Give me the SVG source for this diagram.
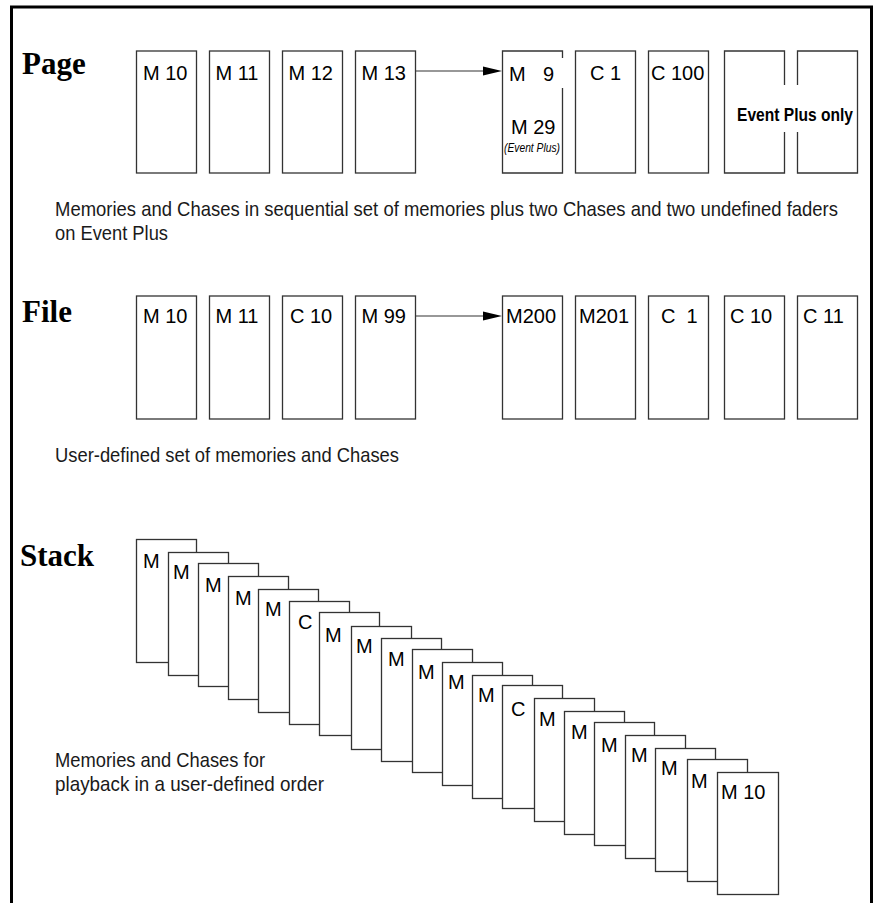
<svg xmlns="http://www.w3.org/2000/svg" width="879" height="903" viewBox="0 0 879 903">
<style>
.bg{fill:#fff}
.frame{fill:none;stroke:#000;stroke-width:3}
.box{fill:#fff;stroke:#333;stroke-width:1.3}
.edge{fill:none;stroke:#333;stroke-width:1.3}
.lbl{font-family:"Liberation Sans",Arial,sans-serif;font-size:20px;fill:#000}
.title{font-family:"Liberation Serif","Times New Roman",serif;font-weight:bold;font-size:31px;fill:#000}
.desc{font-family:"Liberation Sans",Arial,sans-serif;font-size:21px;fill:#1a1a1a}
.small{font-family:"Liberation Sans",Arial,sans-serif;font-style:italic;font-size:13px;fill:#000}
.bold{font-family:"Liberation Sans",Arial,sans-serif;font-weight:bold;font-size:18px;fill:#000}
.conn{stroke:#333;stroke-width:1.2;fill:none}
.head{fill:#000}
</style>
<rect class="bg" x="0" y="0" width="879" height="903"/>
<rect class="frame" x="11.5" y="7" width="860" height="910"/>

<!-- Section titles -->
<g id="title-page"><text class="title" x="22" y="74">Page</text></g>
<g id="title-file"><text class="title" x="22" y="322">File</text></g>
<g id="title-stack"><text class="title" x="20" y="566">Stack</text></g>

<!-- Page row -->
<g id="page-m10"><rect class="box" x="136.5" y="51" width="60" height="122"/><text class="lbl" x="143" y="80">M 10</text></g>
<g id="page-m11"><rect class="box" x="209.5" y="51" width="60" height="122"/><text class="lbl" x="215.5" y="80">M 11</text></g>
<g id="page-m12"><rect class="box" x="282.5" y="51" width="60" height="122"/><text class="lbl" x="288.5" y="80">M 12</text></g>
<g id="page-m13"><rect class="box" x="355.5" y="51" width="60" height="122"/><text class="lbl" x="361.5" y="80">M 13</text></g>
<g id="page-m9"><path class="edge" d="M562.5,58 V51 H502.5 V173 H562.5 V88"/><text class="lbl" x="509" y="81">M</text><text class="lbl" x="543" y="81">9</text><text class="lbl" x="511" y="134">M 29</text><text class="small" x="504" y="152" textLength="56" lengthAdjust="spacingAndGlyphs">(Event Plus)</text></g>
<g id="page-c1"><rect class="box" x="575.5" y="51" width="60" height="122"/><text class="lbl" x="590" y="80">C 1</text></g>
<g id="page-c100"><rect class="box" x="648.5" y="51" width="60" height="122"/><text class="lbl" x="651" y="80">C 100</text></g>
<g id="page-ep1"><path class="edge" d="M784.5,85 V51 H724.5 V173 H784.5 V132"/></g>
<g id="page-ep2"><path class="edge" d="M797.5,85 V51 H857.5 V173 H797.5 V132"/><text class="bold" x="737" y="121" textLength="116" lengthAdjust="spacingAndGlyphs">Event Plus only</text></g>

<g id="desc-page">
<text class="desc" x="55" y="216" textLength="783" lengthAdjust="spacingAndGlyphs">Memories and Chases in sequential set of memories plus two Chases and two undefined faders</text>
<text class="desc" x="55" y="240" textLength="113" lengthAdjust="spacingAndGlyphs">on Event Plus</text>
</g>

<!-- File row -->
<g id="file-m10"><rect class="box" x="136.5" y="296" width="60" height="123"/><text class="lbl" x="143" y="323">M 10</text></g>
<g id="file-m11"><rect class="box" x="209.5" y="296" width="60" height="123"/><text class="lbl" x="215.5" y="323">M 11</text></g>
<g id="file-c10"><rect class="box" x="282.5" y="296" width="60" height="123"/><text class="lbl" x="290" y="323">C 10</text></g>
<g id="file-m99"><rect class="box" x="355.5" y="296" width="60" height="123"/><text class="lbl" x="361.5" y="323">M 99</text></g>
<g id="file-m200"><rect class="box" x="502.5" y="296" width="60" height="123"/><text class="lbl" x="506" y="323">M200</text></g>
<g id="file-m201"><rect class="box" x="575.5" y="296" width="60" height="123"/><text class="lbl" x="579" y="323">M201</text></g>
<g id="file-c1"><rect class="box" x="648.5" y="296" width="60" height="123"/><text class="lbl" x="661" y="323" xml:space="preserve">C  1</text></g>
<g id="file-c10b"><rect class="box" x="724.5" y="296" width="60" height="123"/><text class="lbl" x="730" y="323">C 10</text></g>
<g id="file-c11"><rect class="box" x="797.5" y="296" width="60" height="123"/><text class="lbl" x="803" y="323">C 11</text></g>

<g id="desc-file">
<text class="desc" x="55" y="462" textLength="344" lengthAdjust="spacingAndGlyphs">User-defined set of memories and Chases</text>
</g>

<!-- Stack -->
<g id="stack-1"><rect class="box" x="136.5" y="539.5" width="60" height="123"/><text class="lbl" x="143" y="568">M</text></g>
<g id="stack-2"><rect class="box" x="168.5" y="552.5" width="60" height="123"/><text class="lbl" x="173" y="579">M</text></g>
<g id="stack-3"><rect class="box" x="198.5" y="563.5" width="60" height="123"/><text class="lbl" x="205" y="592">M</text></g>
<g id="stack-4"><rect class="box" x="228.5" y="576.5" width="60" height="123"/><text class="lbl" x="235" y="605">M</text></g>
<g id="stack-5"><rect class="box" x="258.5" y="589.5" width="60" height="123"/><text class="lbl" x="265" y="616">M</text></g>
<g id="stack-6"><rect class="box" x="289.5" y="601.5" width="60" height="123"/><text class="lbl" x="298" y="629">C</text></g>
<g id="stack-7"><rect class="box" x="319.5" y="612.5" width="60" height="123"/><text class="lbl" x="325" y="642">M</text></g>
<g id="stack-8"><rect class="box" x="351.5" y="626.5" width="60" height="123"/><text class="lbl" x="356" y="653">M</text></g>
<g id="stack-9"><rect class="box" x="381.5" y="638.5" width="60" height="123"/><text class="lbl" x="388" y="666">M</text></g>
<g id="stack-10"><rect class="box" x="412.5" y="649.5" width="60" height="123"/><text class="lbl" x="418" y="679">M</text></g>
<g id="stack-11"><rect class="box" x="442.5" y="662.5" width="60" height="123"/><text class="lbl" x="448" y="689">M</text></g>
<g id="stack-12"><rect class="box" x="472.5" y="675.5" width="60" height="123"/><text class="lbl" x="478" y="702">M</text></g>
<g id="stack-13"><rect class="box" x="502.5" y="685.5" width="60" height="123"/><text class="lbl" x="511" y="716">C</text></g>
<g id="stack-14"><rect class="box" x="534.5" y="698.5" width="60" height="123"/><text class="lbl" x="539" y="726">M</text></g>
<g id="stack-15"><rect class="box" x="564.5" y="711.5" width="60" height="123"/><text class="lbl" x="571" y="739">M</text></g>
<g id="stack-16"><rect class="box" x="594.5" y="722.5" width="60" height="123"/><text class="lbl" x="601" y="752">M</text></g>
<g id="stack-17"><rect class="box" x="625.5" y="735.5" width="60" height="123"/><text class="lbl" x="631" y="762">M</text></g>
<g id="stack-18"><rect class="box" x="655.5" y="748.5" width="60" height="123"/><text class="lbl" x="661" y="775">M</text></g>
<g id="stack-19"><rect class="box" x="687.5" y="759.5" width="60" height="122"/><text class="lbl" x="691" y="788">M</text></g>
<g id="stack-20"><rect class="box" x="717.5" y="772.5" width="61" height="122"/><text class="lbl" x="721" y="799">M 10</text></g>

<g id="desc-stack">
<text class="desc" x="55" y="767" textLength="210" lengthAdjust="spacingAndGlyphs">Memories and Chases for</text>
<text class="desc" x="55" y="791" textLength="269" lengthAdjust="spacingAndGlyphs">playback in a user-defined order</text>
</g>

<!-- Connectors -->
<g id="connectors">
<line class="conn" x1="416" y1="71" x2="484" y2="71"/>
<polygon class="head" points="483,66.5 502,71 483,75.5"/>
<line class="conn" x1="416" y1="316" x2="484" y2="316"/>
<polygon class="head" points="483,311.5 502,316 483,320.5"/>
</g>
</svg>
